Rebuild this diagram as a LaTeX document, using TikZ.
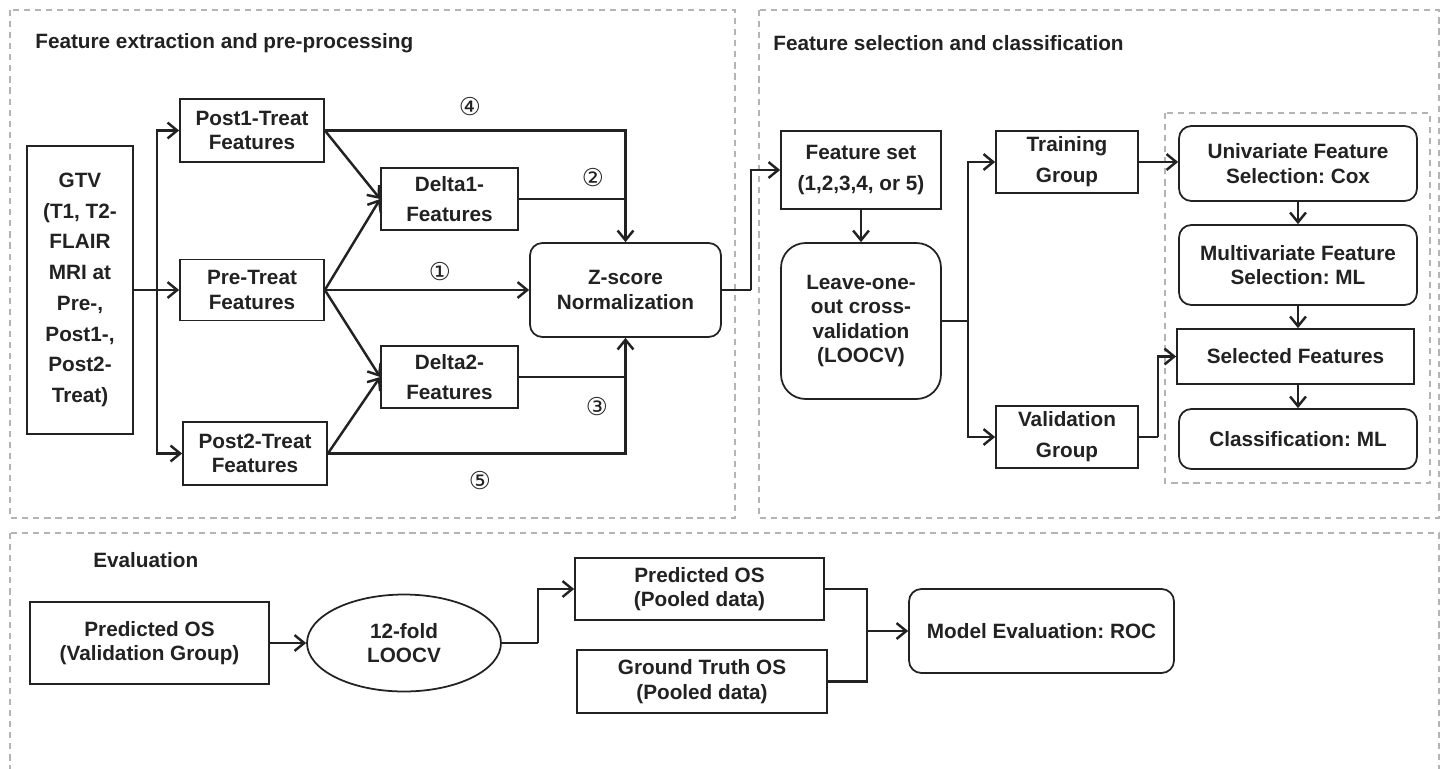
\documentclass[tikz,border=0pt]{standalone}
\usepackage{fontspec}
\setmainfont{Liberation Sans}
\newfontfamily\circfont{DejaVu Sans}
\usetikzlibrary{arrows.meta,shapes.geometric}
\frenchspacing

\definecolor{linegray}{HTML}{222222}
\definecolor{dashgray}{HTML}{B4B4B4}

\begin{document}
\begin{tikzpicture}[x=0.02cm,y=-0.02cm,
  every node/.style={font=\bfseries\fontsize{11.8}{14}\selectfont,text=linegray,align=center,inner sep=0pt},
  sqbox/.style={draw=linegray,line width=1pt,fill=white,rectangle},
  rndbox/.style={sqbox,rounded corners=7pt},
  wide/.style={font=\bfseries\fontsize{11.8}{17.5}\selectfont},
  link/.style={draw=linegray,line width=1.4pt},
  arr/.style={link,-{Straight Barb[length=5.5pt,width=9pt]}},
  part/.style={draw=dashgray,line width=0.6pt,dash pattern=on 3.5pt off 2.8pt},
  num/.style={font=\circfont\fontsize{14}{14}\selectfont}]
\useasboundingbox (0,0) rectangle (1444,768);

% dashed panels
\draw[part] (10,10) rectangle (735,518);
\draw[part] (759,10) rectangle (1439,518);
\draw[part] (10,533) rectangle (1439,790);
\draw[part] (1165,113) rectangle (1430,483);

\node (title1) at (35,43) [anchor=west] {Feature extraction and pre-processing};
\node (title2) at (773,43) [anchor=west] {Feature selection and classification};
\node (title3) at (93,560) [anchor=west] {Evaluation};

% feature extraction
\coordinate (cgtv) at (80,290);
\coordinate (cpost1) at (252,130.5);
\coordinate (cpre) at (252,290);
\coordinate (cpost2) at (255,453.5);
\coordinate (cdelta1) at (449.5,199);
\coordinate (cdelta2) at (449.5,377);
\coordinate (czscore) at (625.5,290);
\coordinate (split1) at (157,290);

\node (gtv) at (cgtv) [sqbox,wide,minimum width=2.12cm,minimum height=5.76cm] {GTV\\(T1, T2-\\FLAIR\\MRI at\\Pre-,\\Post1-,\\Post2-\\Treat)};
\node (post1) at (cpost1) [sqbox,minimum width=2.88cm,minimum height=1.26cm] {Post1-Treat\\Features};
\node (pre) at (cpre) [sqbox,minimum width=2.88cm,minimum height=1.22cm] {Pre-Treat\\Features};
\node (post2) at (cpost2) [sqbox,minimum width=2.88cm,minimum height=1.26cm] {Post2-Treat\\Features};
\node (delta1) at (cdelta1) [sqbox,wide,minimum width=2.74cm,minimum height=1.24cm] {Delta1-\\Features};
\node (delta2) at (cdelta2) [sqbox,wide,minimum width=2.74cm,minimum height=1.24cm] {Delta2-\\Features};
\node (zscore) at (czscore) [rndbox,minimum width=3.82cm,minimum height=1.88cm] {Z-score\\Normalization};

\draw[arr] (gtv.east) -- (pre.west);
\draw[arr] (split1) |- (post1.west);
\draw[arr] (split1) |- (post2.west);
\draw[arr] (post1.east) -- (delta1.west);
\draw[arr] (pre.east) -- (delta1.west);
\draw[arr] (pre.east) -- (delta2.west);
\draw[arr] (post2.east) -- (delta2.west);
\draw[arr] (post1.east) -| (zscore.north);
\draw[link] (delta1.east) -- (delta1.east -| zscore.north);
\draw[arr] (pre.east) -- (zscore.west);
\draw[link] (delta2.east) -- (delta2.east -| zscore.south);
\draw[arr] (post2.east) -| (zscore.south);

\node (n4) at (470,107) [num] {④};
\node (n2) at (593,178) [num] {②};
\node (n1) at (440,272) [num] {①};
\node (n3) at (597,407) [num] {③};
\node (n5) at (480,481) [num] {⑤};

% feature selection
\coordinate (cfset) at (861,170);
\coordinate (cloocv) at (861,321);
\coordinate (ctrain) at (1067,162);
\coordinate (cvalid) at (1067,437);
\coordinate (cuniv) at (1298,163.5);
\coordinate (cmulti) at (1298,265);
\coordinate (cselfeat) at (1295.5,356.5);
\coordinate (cclassif) at (1298,439);
\coordinate (split2) at (751,290);
\coordinate (split3) at (968,321);
\coordinate (split4) at (1158,437);

\node (fset) at (cfset) [sqbox,wide,minimum width=3.2cm,minimum height=1.56cm] {Feature set\\(1,2,3,4, or 5)};
\node (loocv) at (cloocv) [sqbox,rounded corners=14pt,minimum width=3.2cm,minimum height=3.12cm] {Leave-one-\\out cross-\\validation\\(LOOCV)};
\node (train) at (ctrain) [sqbox,wide,minimum width=2.84cm,minimum height=1.24cm] {Training\\Group};
\node (valid) at (cvalid) [sqbox,wide,minimum width=2.84cm,minimum height=1.24cm] {Validation\\Group};
\node (univ) at (cuniv) [rndbox,minimum width=4.76cm,minimum height=1.5cm] {Univariate Feature\\Selection: Cox};
\node (multi) at (cmulti) [rndbox,minimum width=4.76cm,minimum height=1.6cm] {Multivariate Feature\\Selection: ML};
\node (selfeat) at (cselfeat) [sqbox,minimum width=4.74cm,minimum height=1.1cm] {Selected Features};
\node (classif) at (cclassif) [rndbox,minimum width=4.76cm,minimum height=1.2cm] {Classification: ML};

\draw[link] (zscore.east) -- (split2);
\draw[arr] (split2) |- (fset.west);
\draw[arr] (fset.south) -- (loocv.north);
\draw[link] (loocv.east) -- (split3);
\draw[arr] (split3) |- (train.west);
\draw[arr] (split3) |- (valid.west);
\draw[arr] (train.east) -- (univ.west |- train.east);
\draw[link] (valid.east) -- (split4);
\draw[arr] (split4) |- (selfeat.west);
\draw[arr] (univ.south) -- (multi.north);
\draw[arr] (multi.south) -- (multi.south |- selfeat.north);
\draw[arr] (selfeat.south -| classif.north) -- (classif.north);

% evaluation
\coordinate (cpredval) at (149.5,643);
\coordinate (ckfold) at (404,643);
\coordinate (cpredpool) at (699.5,589);
\coordinate (ctruth) at (702,681.5);
\coordinate (croc) at (1041.5,631);
\coordinate (split5) at (538,643);
\coordinate (split6) at (867,631);

\node (predval) at (cpredval) [sqbox,minimum width=4.78cm,minimum height=1.64cm] {Predicted OS\\(Validation Group)};
\node (kfold) at (ckfold) [sqbox,ellipse,minimum width=3.88cm,minimum height=1.94cm] {12-fold\\LOOCV};
\node (predpool) at (cpredpool) [sqbox,minimum width=4.98cm,minimum height=1.24cm] {Predicted OS\\(Pooled data)};
\node (truth) at (ctruth) [sqbox,minimum width=5cm,minimum height=1.26cm] {Ground Truth OS\\(Pooled data)};
\node (roc) at (croc) [rndbox,minimum width=5.3cm,minimum height=1.68cm] {Model Evaluation: ROC};

\draw[arr] (predval.east) -- (kfold.west);
\draw[link] (kfold.east) -- (split5);
\draw[arr] (split5) |- (predpool.west);
\draw[link] (predpool.east) -| (split6) |- (truth.east);
\draw[arr] (split6) -- (roc.west);
\end{tikzpicture}
\end{document}
